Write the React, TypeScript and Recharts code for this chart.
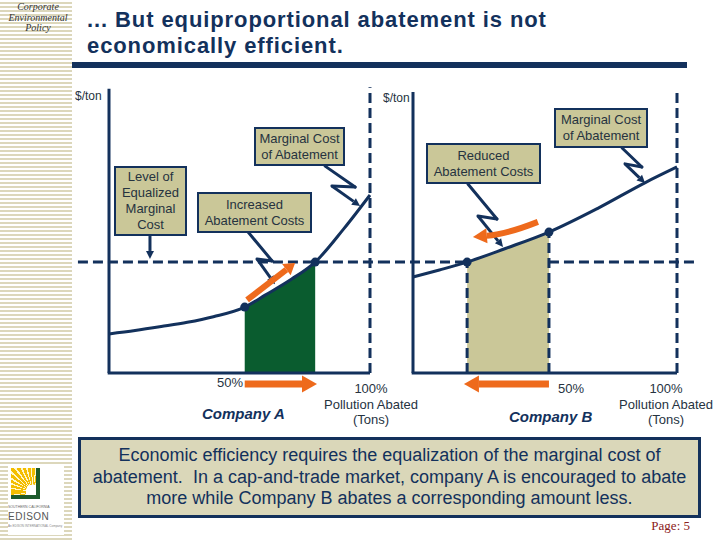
import React from 'react';
import { ComposedChart, Line, Area, XAxis, YAxis, ReferenceLine, ReferenceDot } from 'recharts';

// ---------- data ----------
const pctA = [0, 10, 20, 30, 40, 52, 60, 70, 79, 90, 100];
const costA = [13.8, 15.0, 16.4, 17.9, 19.9, 23.3, 27.6, 33.2, 39.2, 51.0, 62.9];
const pctB = [0, 10, 20.5, 35, 51.5, 70, 88, 100];
const costB = [33.9, 36.4, 39.2, 44.0, 49.8, 58.2, 67.3, 72.8];
const equalizedCost = 39.2;
const halfA = 52; // company A at 50%
const eqA = 79; // company A at equalized marginal cost
const halfB = 51.5; // company B at 50%
const eqB = 20.5; // company B at equalized marginal cost
const axisTop = 100.4;

// ---------- annotation geometry (data units) ----------
const boltAMarginal = [[82.8, 73.1], [94.3, 65.7], [85.4, 66.1], [96.2, 59.0]];
const arrowLevel = [[15.7, 48.4], [15.7, 40.3]];
const boltIncreased = [[53.3, 49.8], [62.5, 39.6], [56.7, 40.3], [63.6, 31.4]];
const boltReduced = [[20.8, 66.8], [31.8, 54.4], [24.6, 55.5], [34.1, 44.5]];
const boltBMarginal = [[79.2, 79.5], [86.7, 72.8], [80.3, 73.9], [87.9, 67.1]];
const orangeA = [[52.9, 25.8], [71.3, 38.9]];
const orangeB = [[47.3, 53.4], [22.7, 48.1]];
const bottomArrowY = -3.9;

const NAVY = '#13315c';
const ORANGE = '#ee6a1c';
const GREEN = '#0a5c2f';
const KHAKI = '#cac798';
const SANS = '"Liberation Sans", Arial, sans-serif';

const rowsA = pctA.map((x, i) => ({ x, cost: costA[i], fill: x >= halfA && x <= eqA ? costA[i] : null }));
const rowsB = pctB.map((x, i) => ({ x, cost: costB[i], fill: x >= eqB && x <= halfB ? costB[i] : null }));
const valAt = (xs: number[], ys: number[], x: number) => ys[xs.indexOf(x)];

const arrowShape = (color: string, width: number, headLen: number, headW: number, curve = 0) => (p: any) => {
  const { x1, y1, x2, y2 } = p;
  if ([x1, y1, x2, y2].some((v) => typeof v !== 'number' || isNaN(v))) return <g />;
  const cdx = x2 - x1, cdy = y2 - y1;
  const clen = Math.hypot(cdx, cdy) || 1;
  const cnx = -cdy / clen, cny = cdx / clen;
  const cx = (x1 + x2) / 2 + cnx * curve, cy = (y1 + y2) / 2 + cny * curve;
  const sx = curve ? cx : x1, sy = curve ? cy : y1;
  const dx = x2 - sx, dy = y2 - sy;
  const len = Math.hypot(dx, dy) || 1;
  const ux = dx / len, uy = dy / len;
  const nx = -uy, ny = ux;
  const bx = x2 - ux * headLen, by = y2 - uy * headLen;
  const d = curve ? `M${x1},${y1}Q${cx},${cy} ${bx},${by}` : `M${x1},${y1}L${bx},${by}`;
  return (
    <g>
      <path d={d} stroke={color} strokeWidth={width} fill="none" strokeLinecap="butt" />
      <polygon
        points={`${x2},${y2} ${bx + (nx * headW) / 2},${by + (ny * headW) / 2} ${bx - (nx * headW) / 2},${by - (ny * headW) / 2}`}
        fill={color}
      />
    </g>
  );
};

const seg = (a: number[], b: number[]) => [{ x: a[0], y: a[1] }, { x: b[0], y: b[1] }];

function bolt(pts: number[][], key: string) {
  return [
    <ReferenceLine key={key + '1'} segment={seg(pts[0], pts[1])} stroke={NAVY} strokeWidth={3} strokeLinecap="round" />,
    <ReferenceLine key={key + '2'} segment={seg(pts[1], pts[2])} stroke={NAVY} strokeWidth={3} strokeLinecap="round" />,
    <ReferenceLine key={key + '3'} segment={seg(pts[2], pts[3])} shape={arrowShape(NAVY, 3, 8, 8)} />,
  ];
}

const xDomain: [number, number] = [-20, 110];
const yDomain: [number, number] = [-10, 110];
const DASH = '10 5';

function PanelA() {
  return (
    <div style={{ position: 'absolute', left: 0, top: 0 }}>
      <ComposedChart width={720} height={540} data={rowsA} margin={{ left: 56.8, right: 323.9, top: 61.7, bottom: 138.7 }}>
        <XAxis type="number" dataKey="x" domain={xDomain} hide allowDataOverflow />
        <YAxis type="number" domain={yDomain} hide allowDataOverflow />
        <Area type="monotone" dataKey="fill" stroke="none" fill={GREEN} fillOpacity={1} isAnimationActive={false} connectNulls={false} />
        <ReferenceLine segment={[{ x: -11.9, y: equalizedCost }, { x: 103.8, y: equalizedCost }]} stroke={NAVY} strokeWidth={3} strokeDasharray={DASH} />
        <ReferenceLine segment={[{ x: 100, y: 0 }, { x: 100, y: 101 }]} stroke={NAVY} strokeWidth={3} strokeDasharray={DASH} />
        <ReferenceLine segment={[{ x: 0, y: 0 }, { x: 0, y: axisTop }]} stroke={NAVY} strokeWidth={3} />
        <ReferenceLine segment={[{ x: -0.5, y: 0 }, { x: 100, y: 0 }]} stroke={NAVY} strokeWidth={3} />
        <Line type="monotone" dataKey="cost" stroke={NAVY} strokeWidth={3} dot={false} isAnimationActive={false} />
        <ReferenceDot x={halfA} y={valAt(pctA, costA, halfA)} r={4.5} fill={NAVY} stroke="none" />
        <ReferenceDot x={eqA} y={equalizedCost} r={4.5} fill={NAVY} stroke="none" />
        {bolt(boltAMarginal, 'am')}
        {bolt(boltIncreased, 'inc')}
        <ReferenceLine segment={seg(arrowLevel[0], arrowLevel[1])} shape={arrowShape(NAVY, 3, 8, 8)} />
        <ReferenceLine segment={seg(orangeA[0], orangeA[1])} shape={arrowShape(ORANGE, 6, 11, 14)} />
        <ReferenceLine segment={[{ x: halfA, y: bottomArrowY }, { x: eqA + 0.7, y: bottomArrowY }]} shape={arrowShape(ORANGE, 7, 15, 17)} />
      </ComposedChart>
    </div>
  );
}

function PanelB() {
  const yHalf = valAt(pctB, costB, halfB);
  return (
    <div style={{ position: 'absolute', left: 0, top: 0 }}>
      <ComposedChart width={720} height={540} data={rowsB} margin={{ left: 360.2, right: 16.6, top: 61.7, bottom: 138.7 }}>
        <XAxis type="number" dataKey="x" domain={xDomain} hide allowDataOverflow />
        <YAxis type="number" domain={yDomain} hide allowDataOverflow />
        <Area type="monotone" dataKey="fill" stroke="none" fill={KHAKI} fillOpacity={1} isAnimationActive={false} connectNulls={false} />
        <ReferenceLine segment={[{ x: -12.5, y: equalizedCost }, { x: eqB, y: equalizedCost }]} stroke={NAVY} strokeWidth={3} strokeDasharray={DASH} />
        <ReferenceLine segment={[{ x: halfB, y: equalizedCost }, { x: 106.8, y: equalizedCost }]} stroke={NAVY} strokeWidth={3} strokeDasharray={DASH} />
        <ReferenceLine segment={[{ x: 100, y: 0 }, { x: 100, y: 100.7 }]} stroke={NAVY} strokeWidth={3} strokeDasharray={DASH} />
        <ReferenceLine segment={[{ x: eqB, y: 0 }, { x: eqB, y: equalizedCost }]} stroke={NAVY} strokeWidth={3} strokeDasharray={DASH} />
        <ReferenceLine segment={[{ x: halfB, y: 0 }, { x: halfB, y: yHalf }]} stroke={NAVY} strokeWidth={3} strokeDasharray={DASH} />
        <ReferenceLine segment={[{ x: 0, y: 0 }, { x: 0, y: 99.3 }]} stroke={NAVY} strokeWidth={3} />
        <ReferenceLine segment={[{ x: -0.5, y: 0 }, { x: 100, y: 0 }]} stroke={NAVY} strokeWidth={3} />
        <Line type="monotone" dataKey="cost" stroke={NAVY} strokeWidth={3} dot={false} isAnimationActive={false} />
        <ReferenceDot x={eqB} y={equalizedCost} r={4.5} fill={NAVY} stroke="none" />
        <ReferenceDot x={halfB} y={yHalf} r={4.5} fill={NAVY} stroke="none" />
        {bolt(boltReduced, 'red')}
        {bolt(boltBMarginal, 'bm')}
        <ReferenceLine segment={seg(orangeB[0], orangeB[1])} shape={arrowShape(ORANGE, 6, 14, 15, -5)} />
        <ReferenceLine segment={[{ x: halfB, y: bottomArrowY }, { x: eqB - 1.2, y: bottomArrowY }]} shape={arrowShape(ORANGE, 7, 15, 17)} />
      </ComposedChart>
    </div>
  );
}

const txt = (left: number, top: number, text: string, extra: React.CSSProperties = {}) => (
  <div style={{ position: 'absolute', left, top, fontFamily: SANS, fontSize: 12, color: '#26333f', whiteSpace: 'nowrap', ...extra }}>{text}</div>
);

const centerBlock = (cx: number, top: number, lines: string[], extra: React.CSSProperties = {}) => (
  <div style={{ position: 'absolute', left: cx - 60, top, width: 120, textAlign: 'center', fontFamily: SANS, fontSize: 13, lineHeight: '15.5px', color: '#26333f', ...extra }}>
    {lines.map((l, i) => <div key={i}>{l}</div>)}
  </div>
);

const callout = (left: number, top: number, width: number, height: number, lines: string[]) => (
  <div
    style={{
      position: 'absolute', left, top, width, height, boxSizing: 'border-box', border: `2px solid ${NAVY}`, background: KHAKI,
      display: 'flex', flexDirection: 'column', justifyContent: 'center', alignItems: 'center',
      fontFamily: SANS, fontSize: 13, lineHeight: '16px', color: '#26333f', whiteSpace: 'nowrap',
    }}
  >
    {lines.map((l, i) => <div key={i}>{l}</div>)}
  </div>
);

export default function App() {
  return (
    <div style={{ position: 'absolute', left: 0, top: 0, width: 720, height: 540, background: '#fff', overflow: 'hidden' }}>
      {/* left stripe */}
      <div style={{ position: 'absolute', left: 0, top: 0, width: 72, height: 540, background: 'repeating-linear-gradient(to bottom, #ffffff 0px, #ffffff 2px, #dcd7bb 2px, #dcd7bb 4px)' }} />
      <div style={{ position: 'absolute', left: 0, top: 2, width: 76, textAlign: 'center', fontFamily: '"Liberation Serif", "Times New Roman", serif', fontStyle: 'italic', fontSize: 10, lineHeight: '10.5px', color: '#333' }}>
        <div>Corporate</div>
        <div>Environmental</div>
        <div>Policy</div>
      </div>
      {/* title */}
      <div style={{ position: 'absolute', left: 87, top: 7, fontFamily: SANS, fontWeight: 'bold', fontSize: 22, letterSpacing: 0.9, lineHeight: '26px', color: NAVY, whiteSpace: 'nowrap' }}>
        <div>... But equiproportional abatement is not</div>
        <div>economically efficient.</div>
      </div>
      <div style={{ position: 'absolute', left: 72, top: 62, width: 615, height: 6, background: NAVY }} />

      <PanelA />
      <PanelB />

      {txt(75, 89, '$/ton')}
      {txt(383, 91, '$/ton')}

      {callout(254, 127, 91, 39, ['Marginal Cost', 'of Abatement'])}
      {callout(114, 166, 73, 70, ['Level of', 'Equalized', 'Marginal', 'Cost'])}
      {callout(197, 192, 115, 41, ['Increased', 'Abatement Costs'])}
      {callout(426, 143, 115, 41, ['Reduced', 'Abatement Costs'])}
      {callout(554, 108, 94, 40, ['Marginal Cost', 'of Abatement'])}

      {txt(217, 375, '50%', { fontSize: 13 })}
      {txt(202, 405, 'Company A', { fontWeight: 'bold', fontStyle: 'italic', fontSize: 15, color: NAVY })}
      {centerBlock(371, 381, ['100%', 'Pollution Abated', '(Tons)'])}
      {txt(558, 381, '50%', { fontSize: 13 })}
      {txt(509, 408, 'Company B', { fontWeight: 'bold', fontStyle: 'italic', fontSize: 15, color: NAVY })}
      {centerBlock(666, 381, ['100%', 'Pollution Abated', '(Tons)'])}

      {/* bottom text box */}
      <div
        style={{
          position: 'absolute', left: 78, top: 437, width: 623, height: 81, boxSizing: 'border-box', border: `3px solid ${NAVY}`,
          background: '#dad7b9', display: 'flex', flexDirection: 'column', justifyContent: 'center', alignItems: 'center',
          fontFamily: SANS, fontSize: 18, lineHeight: '21.5px', color: NAVY, whiteSpace: 'nowrap',
        }}
      >
        <div>Economic efficiency requires the equalization of the marginal cost of</div>
        <div>abatement.&nbsp; In a cap-and-trade market, company A is encouraged to abate</div>
        <div>more while Company B abates a corresponding amount less.</div>
      </div>

      {/* logo */}
      <div style={{ position: 'absolute', left: 8, top: 465, width: 56, height: 70, background: '#fff' }}>
        <div style={{ position: 'absolute', left: 3, top: 3, width: 29, height: 31, boxSizing: 'border-box', borderRight: '4px solid #1d5a2c', borderBottom: '4px solid #1d5a2c', background: 'radial-gradient(circle at 88% 88%, #ffffff 0 22%, transparent 23%), repeating-conic-gradient(from 270deg at 88% 88%, #f3bd00 0deg 7deg, #fff6cc 7deg 11deg)' }} />
        <div style={{ position: 'absolute', left: 0, top: 40, width: 40, height: 4, textAlign: 'center', fontFamily: SANS, fontSize: 3.5, lineHeight: '4px', color: '#666', whiteSpace: 'nowrap' }}>SOUTHERN CALIFORNIA</div>
        <div style={{ position: 'absolute', left: 0, top: 46, width: 40, height: 11, textAlign: 'center', fontFamily: SANS, fontSize: 10, lineHeight: '11px', letterSpacing: 0.5, color: '#555' }}>EDISON</div>
        <div style={{ position: 'absolute', left: 0, top: 59, width: 50, height: 4, textAlign: 'left', fontFamily: SANS, fontSize: 3, lineHeight: '4px', color: '#888', whiteSpace: 'nowrap' }}>An EDISON INTERNATIONAL Company</div>
      </div>

      <div style={{ position: 'absolute', right: 30, top: 518, fontFamily: '"Liberation Serif", "Times New Roman", serif', fontSize: 13, color: '#8b2020' }}>Page: 5</div>
    </div>
  );
}
